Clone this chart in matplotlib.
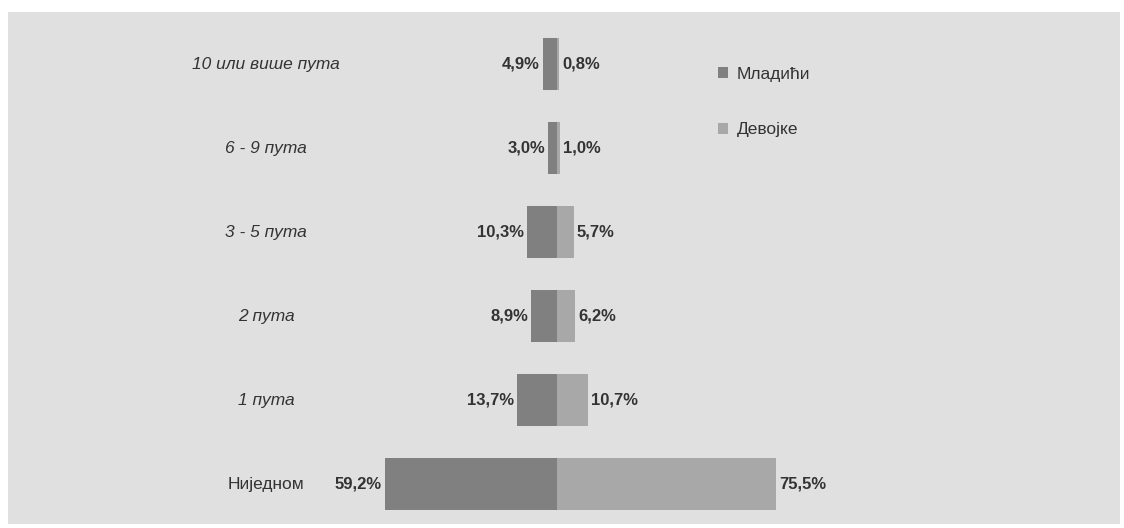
import matplotlib.pyplot as plt
from matplotlib.patches import Rectangle, Patch

plt.rcParams['font.family'] = ['Liberation Sans', 'DejaVu Sans']

categories = ['10 или више пута', '6 - 9 пута', '3 - 5 пута', '2 пута', '1 пута', 'Ниједном']
mladici = [4.9, 3.0, 10.3, 8.9, 13.7, 59.2]
devojke = [0.8, 1.0, 5.7, 6.2, 10.7, 75.5]
series_names = ['Младићи', 'Девојке']

dark = '#808080'
light = '#a8a8a8'
bg = '#e0e0e0'

fig = plt.figure(figsize=(11.24, 5.28), dpi=100)
fig.patch.set_facecolor('white')

ax = fig.add_axes([0, 0, 1, 1])
ax.set_facecolor('none')
px = 2.9  # pixels per percent
ax.set_xlim(-557 / px, (1124 - 557) / px)
ax.set_ylim((528 - 64) / 84, -64 / 84)
ax.axis('off')

# grey panel
ax.add_patch(Rectangle((8 / 1124, 4 / 528), 1112 / 1124, 512 / 528,
                       transform=ax.transAxes, facecolor=bg,
                       edgecolor='none', zorder=0))

y = list(range(len(categories)))
ax.barh(y, [-v for v in mladici], height=0.62, color=dark, zorder=2)
ax.barh(y, devojke, height=0.62, color=light, zorder=2)

for i, cat in enumerate(categories):
    style = 'normal' if i == len(categories) - 1 else 'italic'
    ax.text((266 - 557) / px, i, cat, ha='center', va='center',
            fontsize=12.5, style=style, color='#333333', zorder=3)
    ax.text(-mladici[i] - 1.1, i, f'{mladici[i]:.1f}%'.replace('.', ','),
            ha='right', va='center', fontsize=12, fontweight='bold',
            color='#333333', zorder=3)
    ax.text(devojke[i] + 1.1, i, f'{devojke[i]:.1f}%'.replace('.', ','),
            ha='left', va='center', fontsize=12, fontweight='bold',
            color='#333333', zorder=3)

handles = [Patch(facecolor=dark), Patch(facecolor=light)]
fig.legend(handles, series_names, loc='upper left',
           bbox_to_anchor=(702 / 1124, 1 - 51 / 528), frameon=False,
           fontsize=12.5, handlelength=0.6, handleheight=0.6,
           labelspacing=2.35, handletextpad=0.5, labelcolor='#333333')

fig.savefig('out.png', dpi=100)
